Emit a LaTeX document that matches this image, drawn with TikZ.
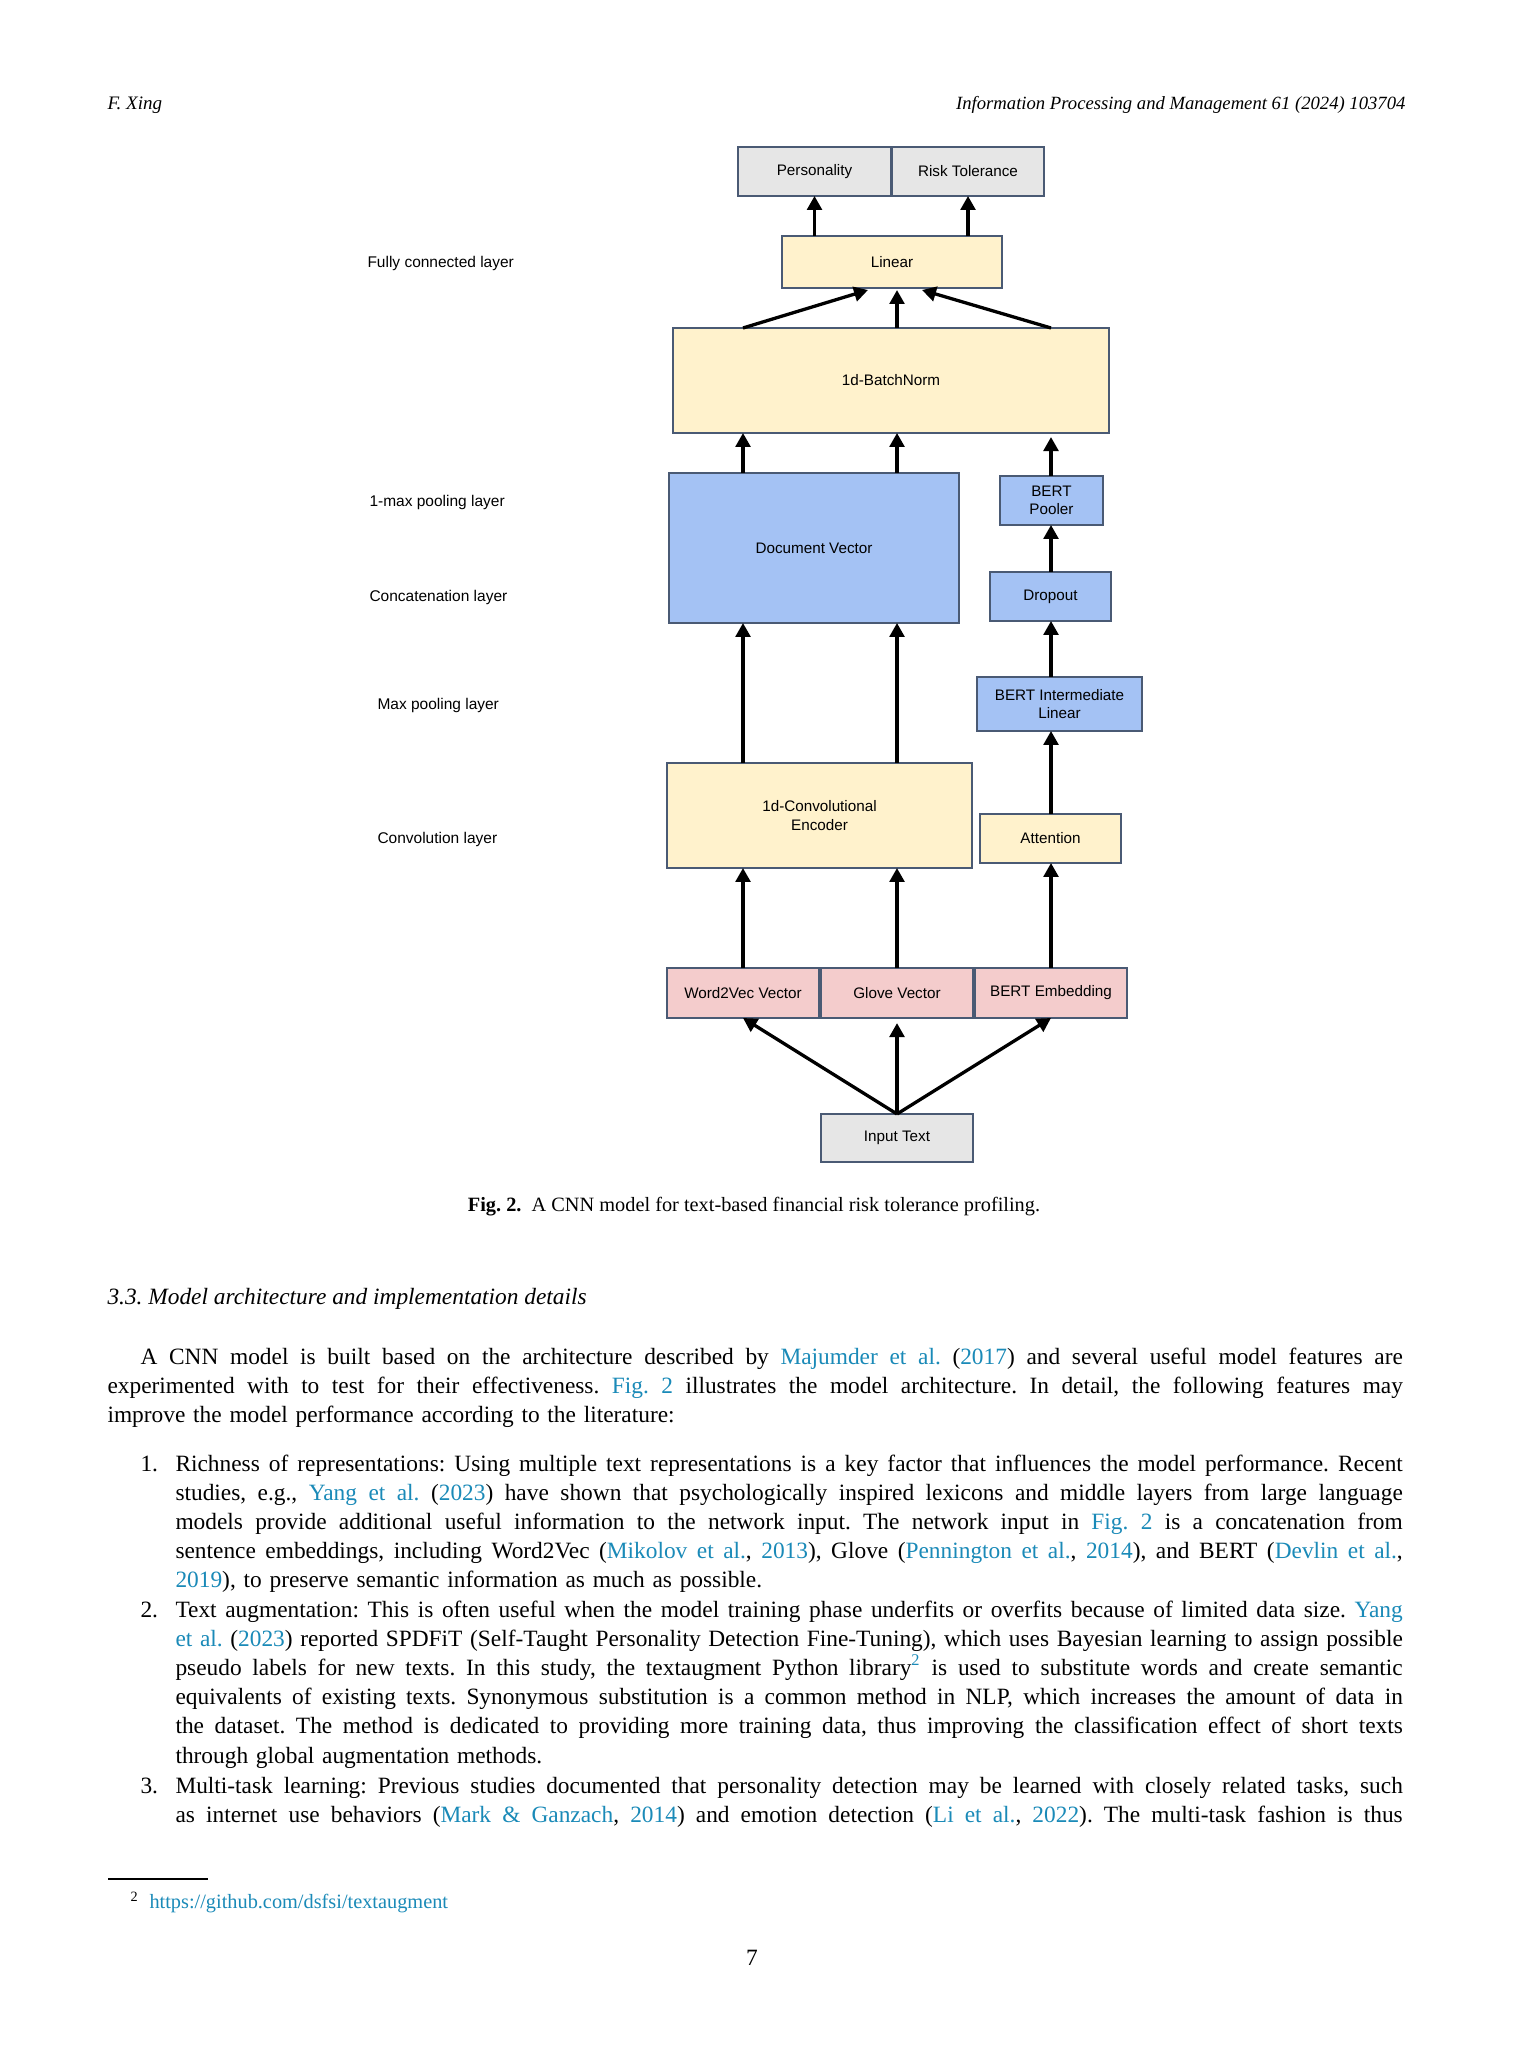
\documentclass[tikz,border=0pt]{standalone}
\usepackage{fontspec}
\setmainfont{Liberation Serif}
\newfontfamily\diagfont{Liberation Sans}
\usetikzlibrary{arrows.meta}
\definecolor{boxgray}{HTML}{E6E6E6}
\definecolor{boxyellow}{HTML}{FFF2CC}
\definecolor{boxblue}{HTML}{A4C2F4}
\definecolor{boxpink}{HTML}{F4CCCC}
\definecolor{boxline}{HTML}{4A5A74}
\definecolor{linkblue}{HTML}{1A8AB8}
\newcommand\lk[1]{\textcolor{linkblue}{#1}}
\newcommand\pline[1]{\hbox to 510pt{\spaceskip=0.25em plus 1em minus 0.08em\relax #1}}
\newcommand\iline[1]{\hbox to 483.2pt{\spaceskip=0.25em plus 1em minus 0.08em\relax #1}}
\newcommand\rline[1]{\hbox{#1}}
\frenchspacing
\begin{document}
\begin{tikzpicture}[x=0.3937pt,y=-0.3937pt,
    box/.style={draw=boxline,line width=0.5pt,inner sep=0pt,outer sep=0pt,align=center,
      font=\diagfont\fontsize{6}{7.2}\selectfont},
    boxsize/.style 2 args={minimum width=#1*0.3937pt,minimum height=#2*0.3937pt},
    graybox/.style={box,fill=boxgray},
    yellowbox/.style={box,fill=boxyellow},
    bluebox/.style={box,fill=boxblue},
    pinkbox/.style={box,fill=boxpink},
    arr/.style={line width=1.3pt,-{Triangle[width=5.8pt,length=5.5pt]}},
    layer/.style={anchor=west,inner sep=0pt,font=\diagfont\fontsize{6.1}{7.3}\selectfont},
    txt/.style={anchor=base west,inner sep=0pt,font=\fontsize{9.2}{11.5}\selectfont},
    body/.style={txt,text width=#1}]
  \fill[white] (0,0) rectangle (1512,2063);
  \useasboundingbox (0,0) rectangle (1512,2063);

  % page head
  \node[txt,font=\fontsize{7.5}{9}\selectfont\itshape] (author) at (107,110) {F.\ Xing};
  \node[txt,anchor=base east,font=\fontsize{7.35}{9}\selectfont\itshape] (journal) at (1406,110)
    {Information Processing and Management 61 (2024) 103704};

  % outputs
  \node[graybox,boxsize={153}{49}] (pers) at (814.5,171.5) {Personality};
  \node[graybox,boxsize={152}{49}] (risk) at (968,171.5) {Risk Tolerance};
  \node[yellowbox,boxsize={220}{52}] (lin) at (892,262) {Linear};
  \node[yellowbox,boxsize={436}{105}] (bn) at (891,380.5) {1d-BatchNorm};
  % CNN branch
  \node[bluebox,boxsize={290}{150}] (doc) at (814,548) {Document Vector};
  \node[yellowbox,boxsize={305}{105}] (conv) at (819.5,815.5) {1d-Convolutional\\Encoder};
  % BERT branch
  \node[bluebox,boxsize={103}{49}] (pool) at (1051.5,500.5) {BERT\\Pooler};
  \node[bluebox,boxsize={121}{49}] (drop) at (1050.5,596.5) {Dropout};
  \node[bluebox,boxsize={165}{54}] (bint) at (1059.5,704) {BERT Intermediate\\Linear};
  \node[yellowbox,boxsize={141}{49}] (att) at (1050.5,838.5) {Attention};
  % inputs
  \node[pinkbox,boxsize={152}{50}] (w2v) at (743,993) {Word2Vec Vector};
  \node[pinkbox,boxsize={152}{50}] (glove) at (897,993) {Glove Vector};
  \node[pinkbox,boxsize={152}{50}] (bemb) at (1051,993) {BERT Embedding};
  \node[graybox,boxsize={152}{48}] (inp) at (897,1138) {Input Text};

  % layer names
  \node[layer] (fcl) at (367,263) {Fully connected layer};
  \node[layer] (mpl1) at (369,502) {1-max pooling layer};
  \node[layer] (ccl) at (369,597) {Concatenation layer};
  \node[layer] (mpl) at (377,705) {Max pooling layer};
  \node[layer] (cvl) at (377,839) {Convolution layer};

  % arrows
  \draw[arr] (inp.north) -- (w2v.south);
  \draw[arr,shorten >=2pt] (inp.north) -- (glove.south);
  \draw[arr] (inp.north) -- (bemb.south);
  \draw[arr] (w2v.north) -- (w2v.north |- conv.south);
  \draw[arr] (glove.north) -- (glove.north |- conv.south);
  \draw[arr] (bemb.north) -- (bemb.north |- att.south);
  \draw[arr] (w2v.north |- conv.north) -- (w2v.north |- doc.south);
  \draw[arr] (glove.north |- conv.north) -- (glove.north |- doc.south);
  \draw[arr] (bemb.north |- att.north) -- (bemb.north |- bint.south);
  \draw[arr] (bemb.north |- bint.north) -- (bemb.north |- drop.south);
  \draw[arr] (bemb.north |- drop.north) -- (bemb.north |- pool.south);
  \draw[arr,shorten >=1.6pt] (bemb.north |- pool.north) -- (bemb.north |- bn.south);
  \draw[arr] (w2v.north |- doc.north) -- (w2v.north |- bn.south);
  \draw[arr] (glove.north |- doc.north) -- (glove.north |- bn.south);
  \coordinate (linL) at (868,290);
  \coordinate (linR) at (922,290);
  \draw[arr] (w2v.north |- bn.north) -- (linL);
  \draw[arr,shorten >=0.8pt] (glove.north |- bn.north) -- (glove.north |- lin.south);
  \draw[arr] (bemb.north |- bn.north) -- (linR);
  \draw[arr] (pers.south |- lin.north) -- (pers.south);
  \draw[arr] (risk.south |- lin.north) -- (risk.south);

  % caption and text
  \node[txt,anchor=base,font=\fontsize{8}{9.6}\selectfont] (caption) at (754,1211)
    {\textbf{Fig. 2.}\enspace A CNN model for text-based financial risk tolerance profiling.};
  \node[txt,font=\fontsize{9.2}{11.5}\selectfont\itshape] (sec) at (107,1304)
    {3.3.\ Model architecture and implementation details};
  \node[body=510pt] (para) at (107,1364) {%
    \pline{\kern13pt A CNN model is built based on the architecture described by \lk{Majumder et al.} (\lk{2017}) and several useful model features are}
    \pline{experimented with to test for their effectiveness. \lk{Fig. 2} illustrates the model architecture. In detail, the following features may}
    \rline{improve the model performance according to the literature:}};
  \node[txt] (n1) at (140,1471) {1.};
  \node[body=483.2pt] (item1) at (175,1471) {%
    \iline{Richness of representations: Using multiple text representations is a key factor that influences the model performance. Recent}
    \iline{studies, e.g., \lk{Yang et al.} (\lk{2023}) have shown that psychologically inspired lexicons and middle layers from large language}
    \iline{models provide additional useful information to the network input. The network input in \lk{Fig. 2} is a concatenation from}
    \iline{sentence embeddings, including Word2Vec (\lk{Mikolov et al.}, \lk{2013}), Glove (\lk{Pennington et al.}, \lk{2014}), and BERT (\lk{Devlin et al.},}
    \rline{\lk{2019}), to preserve semantic information as much as possible.}};
  \node[txt] (n2) at (140,1617) {2.};
  \node[body=483.2pt] (item2) at (175,1617) {%
    \iline{Text augmentation: This is often useful when the model training phase underfits or overfits because of limited data size. \lk{Yang}}
    \iline{\lk{et al.} (\lk{2023}) reported SPDFiT (Self-Taught Personality Detection Fine-Tuning), which uses Bayesian learning to assign possible}
    \iline{pseudo labels for new texts. In this study, the textaugment Python library\textsuperscript{\lk{2}} is used to substitute words and create semantic}
    \iline{equivalents of existing texts. Synonymous substitution is a common method in NLP, which increases the amount of data in}
    \iline{the dataset. The method is dedicated to providing more training data, thus improving the classification effect of short texts}
    \rline{through global augmentation methods.}};
  \node[txt] (n3) at (140,1793) {3.};
  \node[body=483.2pt] (item3) at (175,1793) {%
    \iline{Multi-task learning: Previous studies documented that personality detection may be learned with closely related tasks, such}
    \iline{as internet use behaviors (\lk{Mark \& Ganzach}, \lk{2014}) and emotion detection (\lk{Li et al.}, \lk{2022}). The multi-task fashion is thus}};

  % footnote
  \draw[line width=0.5pt] (108,1879) -- (208,1879);
  \node[txt,font=\fontsize{5.6}{6.5}\selectfont] (fnmark) at (130,1901) {2};
  \node[txt,font=\fontsize{8}{9.6}\selectfont] (fnurl) at (149,1908) {\lk{https://github.com/dsfsi/textaugment}};
  \node[txt,anchor=base] (pagenum) at (752,1965) {7};
\end{tikzpicture}
\end{document}
